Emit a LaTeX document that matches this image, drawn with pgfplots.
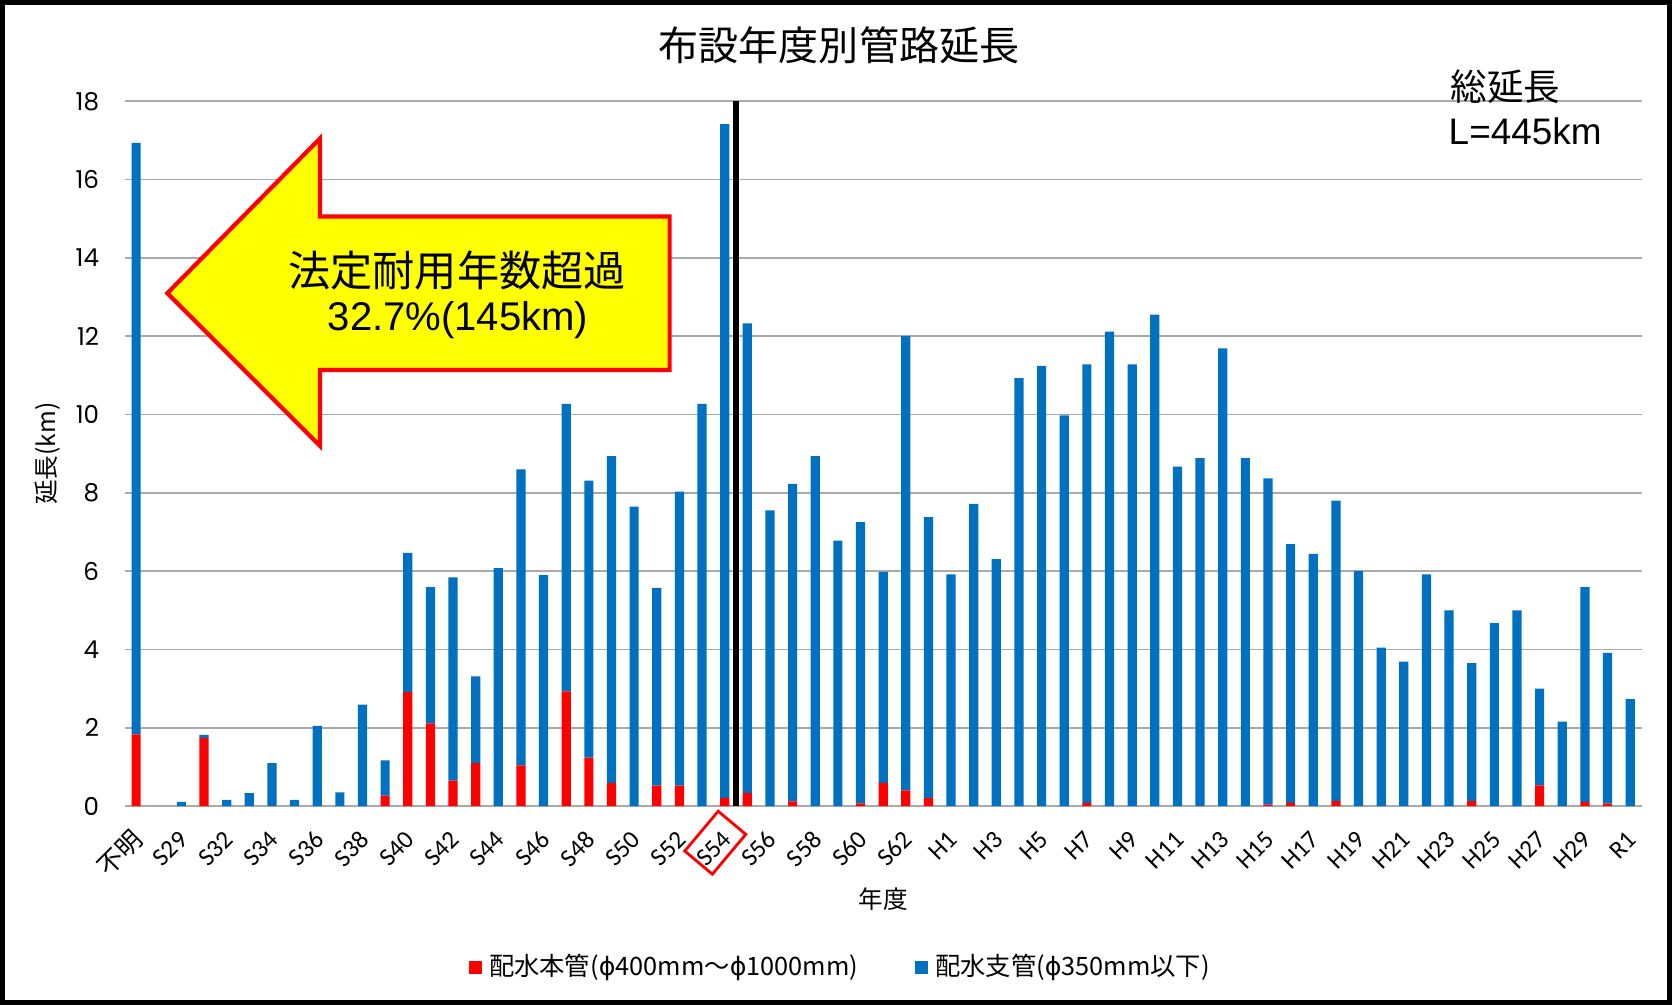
\documentclass[border=0pt]{standalone}
\usepackage{fontspec}
\usepackage{pgfplots}
\pgfplotsset{compat=1.18}
\usepackage{pgfplotstable}
\setmainfont{Liberation Sans}
\newfontfamily\jp{Noto Sans CJK JP}
\newfontfamily\carl{Carlito}
\newfontfamily\popp{Poppins}
\newfontfamily\dv{DejaVu Sans}
\definecolor{barblue}{RGB}{0,112,192}
\definecolor{barred}{RGB}{255,0,0}
\definecolor{gridgray}{RGB}{170,170,170}
\definecolor{arrowyellow}{RGB}{255,255,0}

\pgfplotstableread{
x red blue
0 1.83 15.11
1 0 0
2 0 0.11
3 1.74 0.08
4 0 0.16
5 0 0.33
6 0 1.10
7 0 0.16
8 0 2.05
9 0 0.35
10 0 2.59
11 0.27 0.90
12 2.92 3.55
13 2.11 3.48
14 0.65 5.19
15 1.10 2.21
16 0 6.08
17 1.04 7.56
18 0 5.90
19 2.93 7.34
20 1.24 7.07
21 0.59 8.35
22 0 7.65
23 0.52 5.05
24 0.52 7.51
25 0 10.27
26 0.21 17.21
27 0.34 11.99
28 0 7.55
29 0.12 8.11
30 0 8.94
31 0 6.78
32 0.07 7.18
33 0.59 5.39
34 0.40 11.61
35 0.21 7.17
36 0 5.92
37 0 7.72
38 0 6.31
39 0 10.93
40 0 11.24
41 0 9.98
42 0.08 11.20
43 0 12.12
44 0 11.28
45 0 12.55
46 0 8.67
47 0 8.89
48 0 11.69
49 0 8.89
50 0.04 8.33
51 0.08 6.61
52 0 6.44
53 0.13 7.67
54 0 6.00
55 0 4.05
56 0 3.69
57 0 5.92
58 0 5.00
59 0.13 3.52
60 0 4.67
61 0 5.00
62 0.53 2.47
63 0 2.16
64 0.11 5.48
65 0.06 3.85
66 0 2.73
}\datatable

\begin{document}
\begin{tikzpicture}
\begin{axis}[
  at={(12.48mm,19.89mm)}, anchor=south west,
  width=151.67mm, height=70.48mm, scale only axis,
  xmin=-0.5, xmax=66.5, ymin=0, ymax=18, enlargelimits=false,
  clip=false,
  ybar stacked, bar width=0.92mm,
  xtick={0,2,...,66},
  xticklabels={{\jp 不明},S29,S32,S34,S36,S38,S40,S42,S44,S46,S48,S50,S52,S54,S56,S58,S60,S62,H1,H3,H5,H7,H9,H11,H13,H15,H17,H19,H21,H23,H25,H27,H29,R1},
  ytick={0,2,...,18},
  ymajorgrids, grid style={line width=0.45pt, color=gridgray},
  axis line style={draw=none}, major tick length=0pt,
  /pgf/number format/assume math mode=true,
  yticklabel style={font=\popp\fontsize{7}{8}\selectfont, inner sep=0pt, xshift=-2.5mm},
  xticklabel style={font=\carl\fontsize{7.2}{8}\selectfont, inner sep=0pt, xshift=0.25mm, yshift=-2.9mm, rotate=45, anchor=east},
  title={\jp 布設年度別管路延長},
  every axis title/.style={font=\fontsize{11.4}{13}\selectfont, at={(axis description cs:0.4709,1.0799)}, anchor=center, inner sep=0pt},
  xlabel={\jp 年度},
  xlabel style={font=\fontsize{7}{8}\selectfont, at={(axis description cs:0.5,-0.1318)}, anchor=center, inner sep=0pt},
  ylabel={\jp 延長(km)},
  ylabel style={font=\fontsize{7}{8}\selectfont, at={(axis description cs:-0.0506,0.5)}, anchor=center, inner sep=0pt},
  legend columns=2,
  legend style={draw=none, fill=none, at={(axis description cs:0.4735,-0.2283)}, anchor=center,
    font=\jp\fontsize{7.2}{8}\selectfont,
    /tikz/every even column/.append style={column sep=5mm}},
  legend image code/.code={\fill[#1] (0mm,-0.65mm) rectangle (1.3mm,0.65mm);},
]
\addplot[fill=barred, draw=none] table[x=x, y=red] {\datatable};
\addlegendentry{配水本管({\dv ϕ}400mm～{\dv ϕ}1000mm)}
\addplot[fill=barblue, draw=none] table[x=x, y=blue] {\datatable};
\addlegendentry{配水支管({\dv ϕ}350mm以下)}
\draw[line width=1.6pt, black] (axis cs:26.5,0) -- (axis cs:26.5,18);
\node[draw=barred, line width=0.8pt, rotate=50, minimum width=5.2mm, minimum height=3.6mm, inner sep=0pt]
  at ([xshift=-0.94mm, yshift=-3.66mm]axis cs:26,0) {};
\end{axis}
\begin{scope}[x=0.1mm, y=0.1mm]
  \draw[line width=1.2pt, draw=barred, fill=arrowyellow, line join=miter]
    (167.4,711.8) -- (319.9,866.4) -- (319.9,788.5) -- (669.6,788.5) -- (669.6,635)
    -- (319.9,635) -- (319.9,559.3) -- cycle;
  \node[font=\jp\fontsize{12}{14}\selectfont, inner sep=0pt] at (457,734.2) {法定耐用年数超過};
  \node[font=\fontsize{11.4}{13}\selectfont, inner sep=0pt] at (458,684.6) {32.7\%(145km)};
  \node[font=\jp\fontsize{10.4}{12}\selectfont, inner sep=0pt, anchor=west] at (1450,918.6) {総延長};
  \node[font=\fontsize{10.5}{12}\selectfont, inner sep=0pt, anchor=west] at (1448,874) {L=445km};
  \draw[line width=1.3pt, black] (2.3,2.3) rectangle (1669.7,1002.7);
\end{scope}
\pgfresetboundingbox
\path[use as bounding box] (0,0) rectangle (167.2mm,100.5mm);
\end{tikzpicture}
\end{document}
